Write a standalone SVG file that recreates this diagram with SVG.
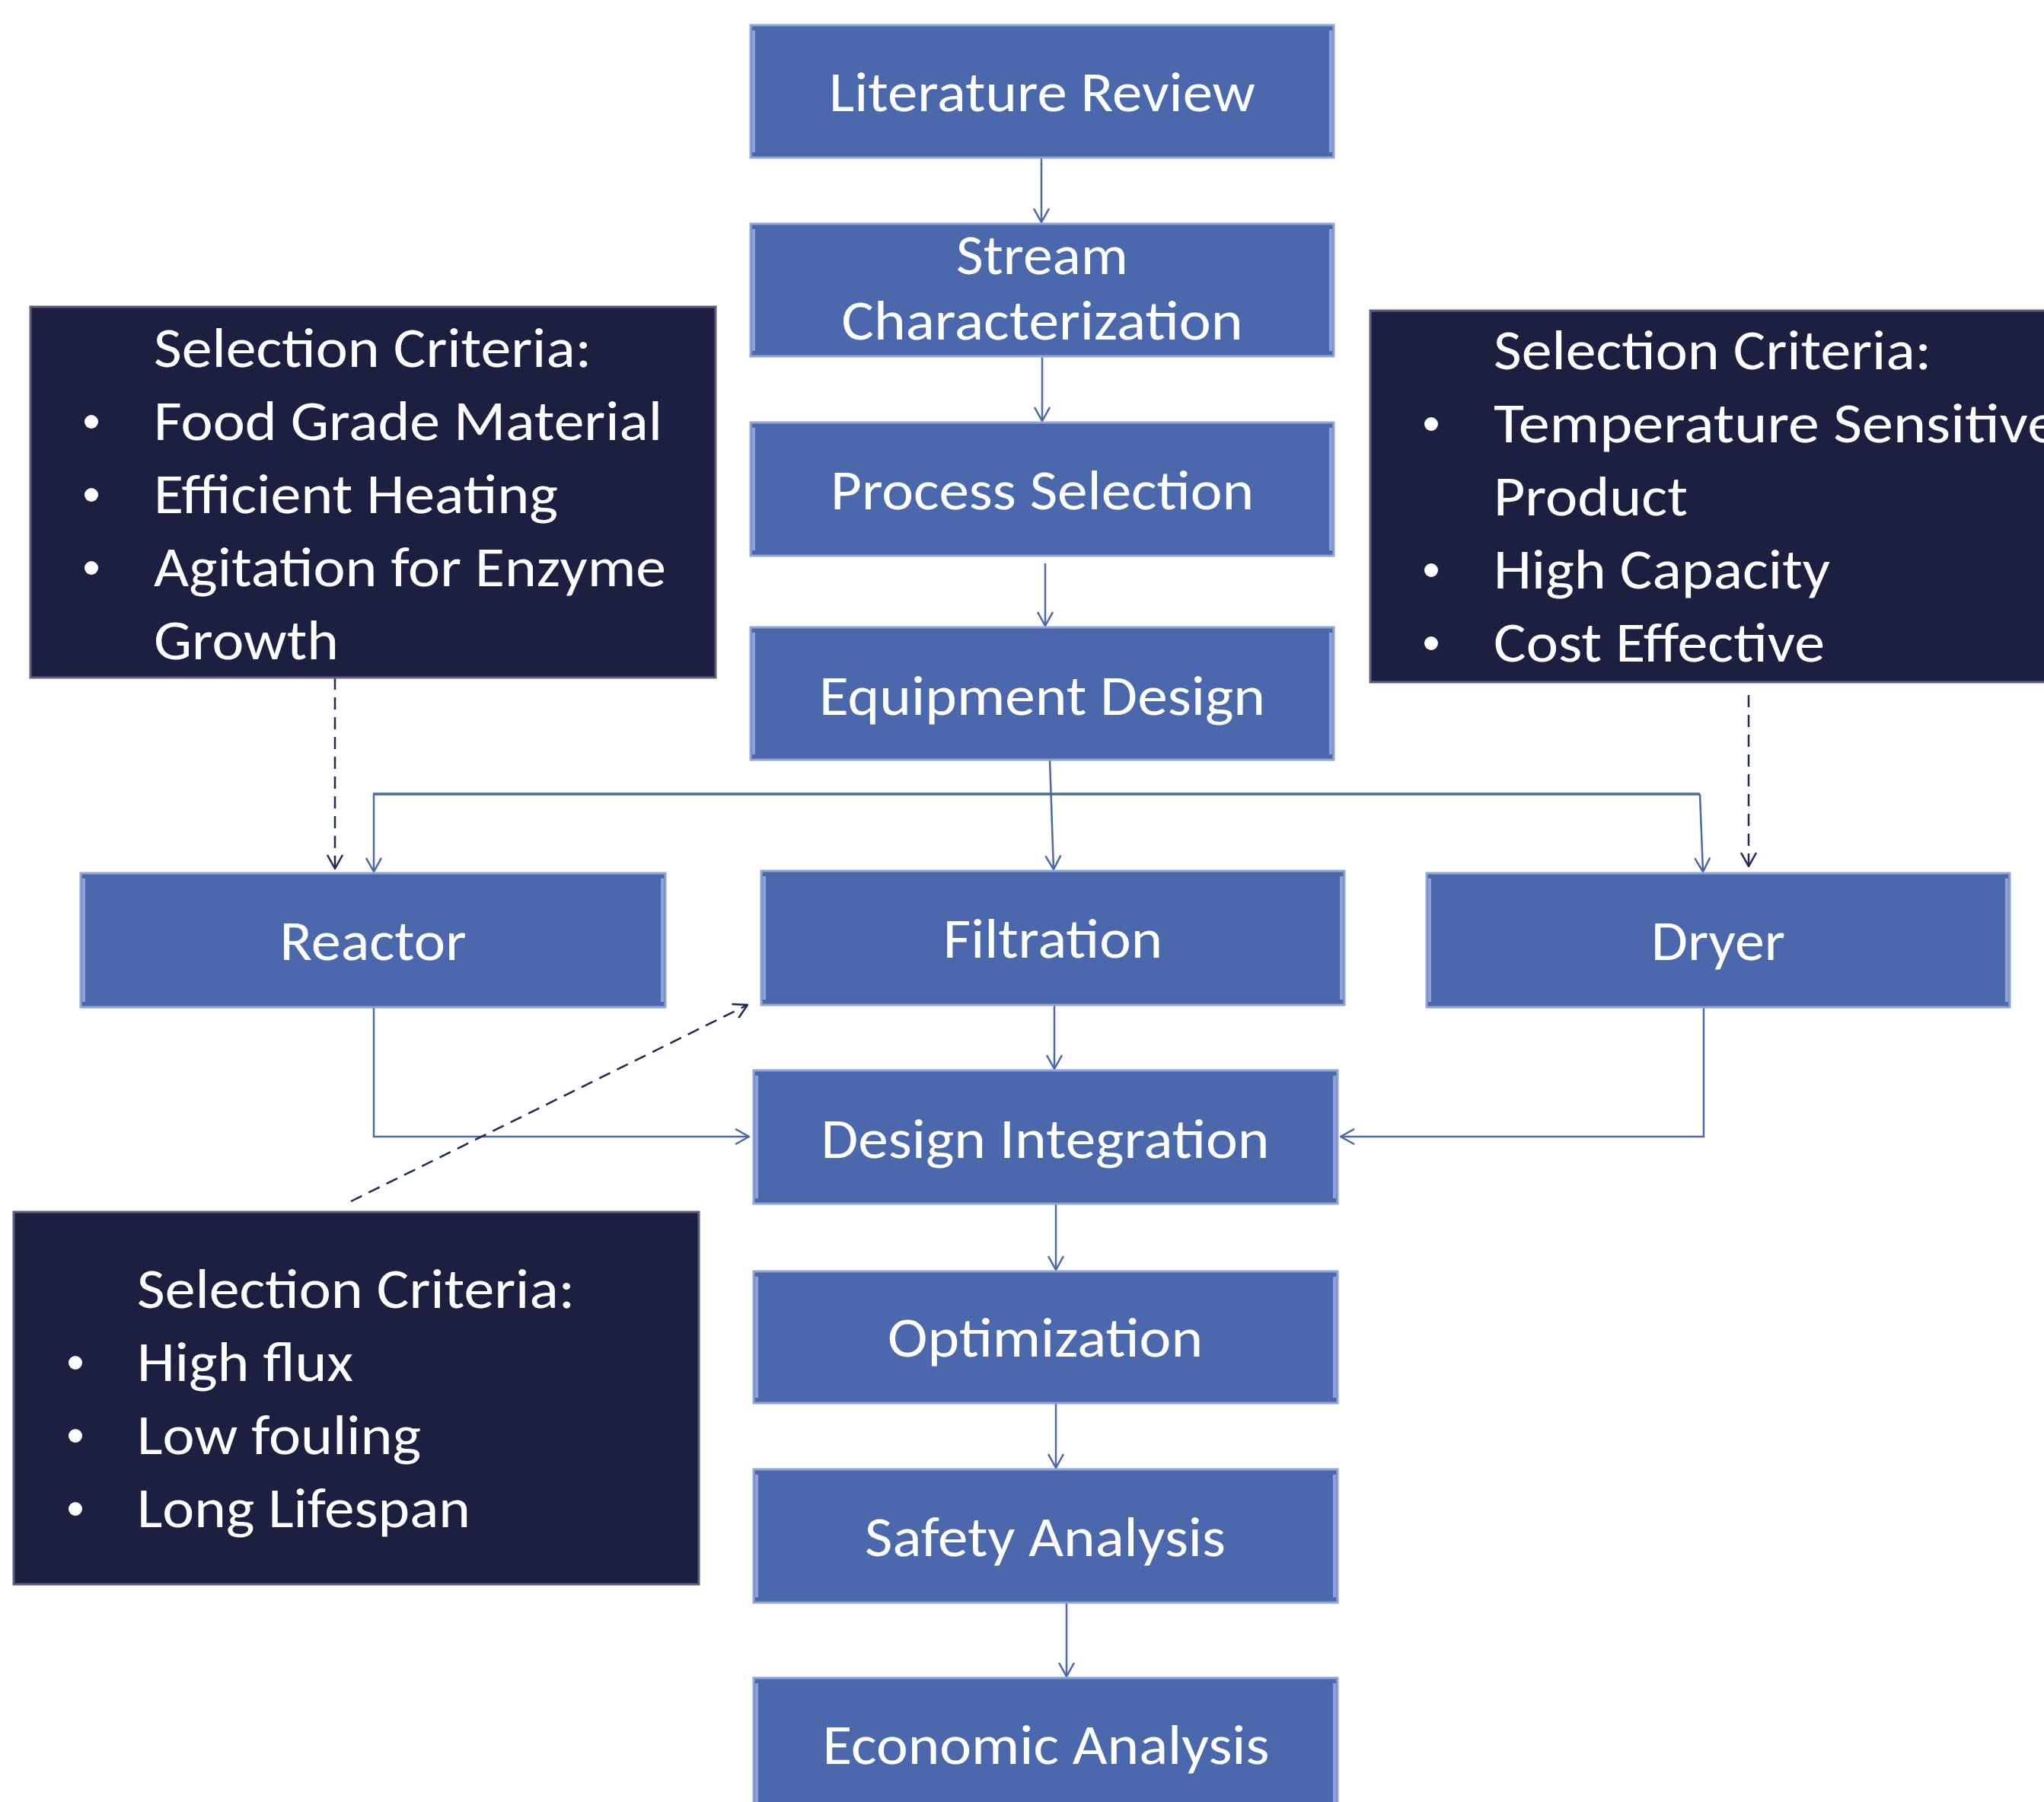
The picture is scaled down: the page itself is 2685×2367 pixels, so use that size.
<svg xmlns="http://www.w3.org/2000/svg" width="2685" height="2367" viewBox="0 0 2685 2367">
<style>
.bx{fill:#4A68AB;stroke:#8FA5D8;stroke-width:3}
.hl{stroke:#9DB2E6;stroke-width:4;fill:none;opacity:0.8}
.dk{fill:#1C1F40;stroke:#5C607C;stroke-width:3}
.t{font-family:Carlito,Lato,"Open Sans",sans-serif;font-size:73px;fill:#FFFFFF}
.c{text-anchor:middle}
.ln{stroke:#4A68AB;stroke-width:2.5;fill:none}
.ds{stroke:#1F2A55;stroke-width:2.5;fill:none;stroke-dasharray:16 10}
.bu{fill:#FFFFFF}
</style>
<defs>
<marker id="a" viewBox="0 0 20 22" refX="19" refY="11" markerWidth="20" markerHeight="22" markerUnits="userSpaceOnUse" orient="auto"><path d="M1,1 L19,11 L1,21" fill="none" stroke="#4A68AB" stroke-width="2.5"/></marker>
<marker id="ad" viewBox="0 0 20 22" refX="19" refY="11" markerWidth="20" markerHeight="22" markerUnits="userSpaceOnUse" orient="auto"><path d="M1,1 L19,11 L1,21" fill="none" stroke="#1F2A55" stroke-width="2.5"/></marker>
</defs>
<rect width="2685" height="2367" fill="#FFFFFF"/>

<g id="connectors">
<line class="ln" x1="1368" y1="207" x2="1368" y2="292" marker-end="url(#a)"/>
<line class="ln" x1="1369" y1="468" x2="1369" y2="553" marker-end="url(#a)"/>
<line class="ln" x1="1373" y1="740" x2="1373" y2="822" marker-end="url(#a)"/>
<line class="ln" x1="1379" y1="998" x2="1384" y2="1142" marker-end="url(#a)"/>
<line x1="490" y1="1043" x2="2233" y2="1043" stroke="#4A68AB" stroke-width="3.5"/>
<line class="ln" x1="491" y1="1043" x2="491" y2="1145" marker-end="url(#a)"/>
<line class="ln" x1="2233" y1="1043" x2="2237" y2="1145" marker-end="url(#a)"/>
<line class="ds" x1="440" y1="890" x2="440" y2="1141" marker-end="url(#ad)"/>
<line class="ds" x1="2297" y1="913" x2="2297" y2="1138" marker-end="url(#ad)"/>
<polyline class="ln" points="491,1322 491,1493 984,1493" marker-end="url(#a)"/>
<polyline class="ln" points="2238,1322 2238,1493 1761,1493" marker-end="url(#a)"/>
<line class="ln" x1="1385" y1="1320" x2="1385" y2="1404" marker-end="url(#a)"/>
<line class="ln" x1="1387" y1="1581" x2="1387" y2="1668" marker-end="url(#a)"/>
<line class="ln" x1="1387" y1="1843" x2="1387" y2="1928" marker-end="url(#a)"/>
<line class="ln" x1="1401" y1="2105" x2="1401" y2="2202" marker-end="url(#a)"/>
<line class="ds" x1="461" y1="1578" x2="982" y2="1320" marker-end="url(#ad)"/>
</g>

<g id="literature-review">
<rect class="bx" x="986" y="33" width="766" height="174"/>
<path class="hl" d="M990,40 V200 M1748,40 V200"/>
<text class="t c" x="1369" y="146" textLength="560" lengthAdjust="spacingAndGlyphs">Literature Review</text>
</g>
<g id="stream-characterization">
<rect class="bx" x="986" y="294" width="766" height="174"/>
<path class="hl" d="M990,301 V461 M1748,301 V461"/>
<text class="t c" x="1369" y="360" textLength="226" lengthAdjust="spacingAndGlyphs">Stream</text>
<text class="t c" x="1369" y="446" textLength="527" lengthAdjust="spacingAndGlyphs">Characterization</text>
</g>
<g id="process-selection">
<rect class="bx" x="986" y="555" width="766" height="175"/>
<path class="hl" d="M990,562 V723 M1748,562 V723"/>
<text class="t c" x="1369" y="669" textLength="556" lengthAdjust="spacingAndGlyphs">Process Selection</text>
</g>
<g id="equipment-design">
<rect class="bx" x="986" y="824" width="766" height="174"/>
<path class="hl" d="M990,831 V991 M1748,831 V991"/>
<text class="t c" x="1369" y="939" textLength="586" lengthAdjust="spacingAndGlyphs">Equipment Design</text>
</g>
<g id="reactor">
<rect class="bx" x="106" y="1147" width="768" height="176"/>
<path class="hl" d="M110,1154 V1316 M870,1154 V1316"/>
<text class="t c" x="490" y="1261" textLength="245" lengthAdjust="spacingAndGlyphs">Reactor</text>
</g>
<g id="filtration">
<rect class="bx" x="1000" y="1144" width="766" height="176"/>
<path class="hl" d="M1004,1151 V1313 M1762,1151 V1313"/>
<text class="t c" x="1383" y="1258" textLength="288" lengthAdjust="spacingAndGlyphs">Filtration</text>
</g>
<g id="dryer">
<rect class="bx" x="1874" y="1147" width="766" height="176"/>
<path class="hl" d="M1878,1154 V1316 M2636,1154 V1316"/>
<text class="t c" x="2257" y="1261" textLength="176" lengthAdjust="spacingAndGlyphs">Dryer</text>
</g>
<g id="design-integration">
<rect class="bx" x="990" y="1406" width="767" height="175"/>
<path class="hl" d="M994,1413 V1574 M1753,1413 V1574"/>
<text class="t c" x="1373" y="1521" textLength="589" lengthAdjust="spacingAndGlyphs">Design Integration</text>
</g>
<g id="optimization">
<rect class="bx" x="990" y="1670" width="767" height="173"/>
<path class="hl" d="M994,1677 V1836 M1753,1677 V1836"/>
<text class="t c" x="1373" y="1782" textLength="414" lengthAdjust="spacingAndGlyphs">Optimization</text>
</g>
<g id="safety-analysis">
<rect class="bx" x="990" y="1930" width="767" height="175"/>
<path class="hl" d="M994,1937 V2098 M1753,1937 V2098"/>
<text class="t c" x="1373" y="2044" textLength="474" lengthAdjust="spacingAndGlyphs">Safety Analysis</text>
</g>
<g id="economic-analysis">
<rect class="bx" x="990" y="2204" width="767" height="180"/>
<path class="hl" d="M994,2211 V2367 M1753,2211 V2367"/>
<text class="t c" x="1374" y="2317" textLength="587" lengthAdjust="spacingAndGlyphs">Economic Analysis</text>
</g>

<g id="criteria-reactor">
<rect class="dk" x="40" y="403" width="900" height="487"/>
<text class="t" x="202" y="482" textLength="575" lengthAdjust="spacingAndGlyphs">Selection Criteria:</text>
<circle class="bu" cx="120" cy="554" r="9"/>
<text class="t" x="202" y="578" textLength="668" lengthAdjust="spacingAndGlyphs">Food Grade Material</text>
<circle class="bu" cx="120" cy="650" r="9"/>
<text class="t" x="202" y="674" textLength="531" lengthAdjust="spacingAndGlyphs">Efficient Heating</text>
<circle class="bu" cx="120" cy="746" r="9"/>
<text class="t" x="202" y="770" textLength="673" lengthAdjust="spacingAndGlyphs">Agitation for Enzyme</text>
<text class="t" x="202" y="866" textLength="243" lengthAdjust="spacingAndGlyphs">Growth</text>
</g>
<g id="criteria-dryer">
<rect class="dk" x="1800" y="408" width="900" height="488"/>
<text class="t" x="1962" y="485" textLength="575" lengthAdjust="spacingAndGlyphs">Selection Criteria:</text>
<circle class="bu" cx="1880" cy="557" r="9"/>
<text class="t" x="1962" y="581" textLength="742" lengthAdjust="spacingAndGlyphs">Temperature Sensitive</text>
<text class="t" x="1962" y="677" textLength="255" lengthAdjust="spacingAndGlyphs">Product</text>
<circle class="bu" cx="1880" cy="749" r="9"/>
<text class="t" x="1962" y="773" textLength="442" lengthAdjust="spacingAndGlyphs">High Capacity</text>
<circle class="bu" cx="1880" cy="845" r="9"/>
<text class="t" x="1962" y="869" textLength="435" lengthAdjust="spacingAndGlyphs">Cost Effective</text>
</g>
<g id="criteria-filtration">
<rect class="dk" x="18" y="1592" width="900" height="489"/>
<text class="t" x="180" y="1718" textLength="575" lengthAdjust="spacingAndGlyphs">Selection Criteria:</text>
<circle class="bu" cx="99" cy="1790" r="9"/>
<text class="t" x="180" y="1814" textLength="284" lengthAdjust="spacingAndGlyphs">High flux</text>
<circle class="bu" cx="99" cy="1886" r="9"/>
<text class="t" x="180" y="1910" textLength="373" lengthAdjust="spacingAndGlyphs">Low fouling</text>
<circle class="bu" cx="99" cy="1982" r="9"/>
<text class="t" x="180" y="2006" textLength="438" lengthAdjust="spacingAndGlyphs">Long Lifespan</text>
</g>
</svg>
